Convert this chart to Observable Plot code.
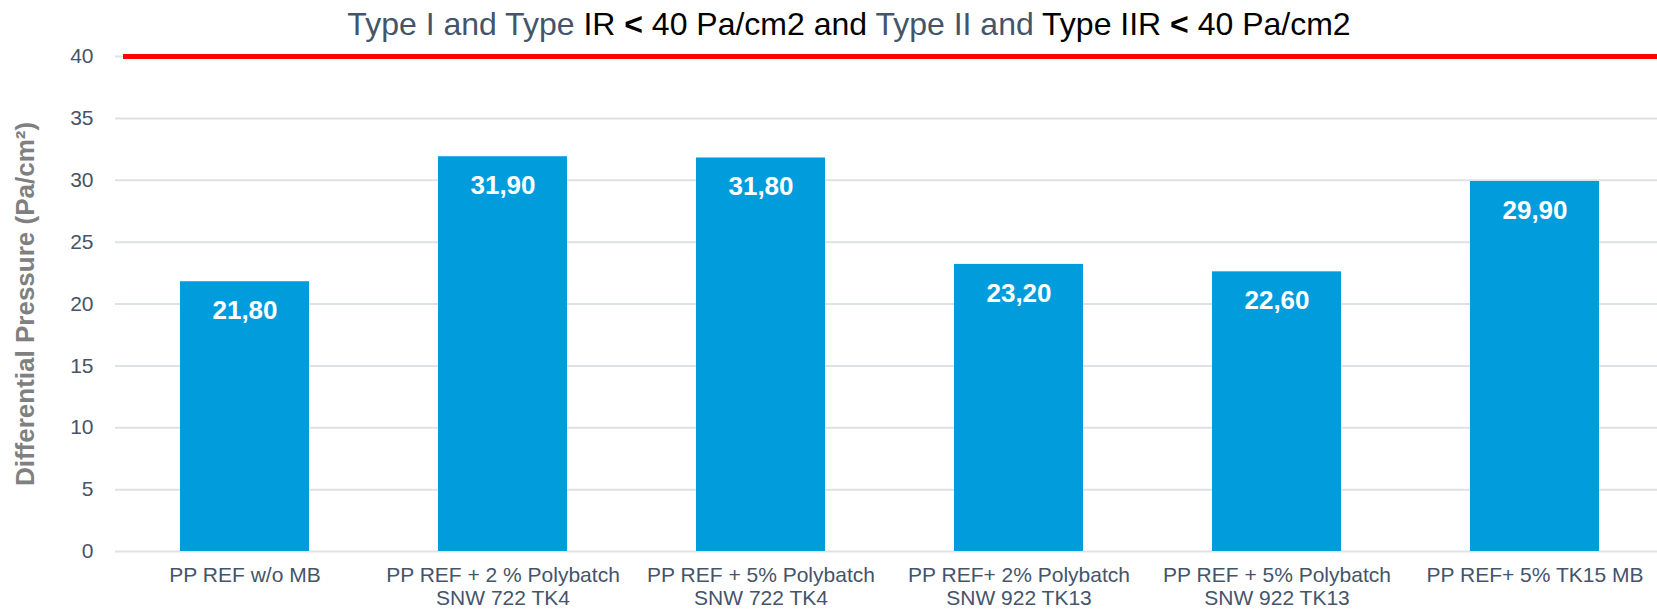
<!DOCTYPE html>
<html>
<head>
<meta charset="utf-8">
<script src="https://cdn.jsdelivr.net/npm/d3@7"></script>
<script src="https://cdn.jsdelivr.net/npm/@observablehq/plot@0.6"></script>
<style>
  html, body { margin: 0; padding: 0; background: #fff; overflow: hidden; }
  body { font-family: "Liberation Sans", Arial, sans-serif; width: 1657px; }
  #title {
    box-sizing: border-box; width: 1657px; height: 44px; line-height: 48px;
    padding-left: 41px; text-align: center; font-size: 32px; white-space: nowrap;
    color: #000;
  }
  #title .s { color: #44546A; }
  #title b { font-weight: bold; }
  g[aria-label="y-axis label"] text { font-weight: bold; fill: #808080; font-size: 26px; }
</style>
</head>
<body>
<div id="title"><span class="s">Type I and Type</span> IR <b>&lt;</b> 40 Pa/cm2 and <span class="s">Type II and</span> Type IIR <b>&lt;</b> 40 Pa/cm2</div>
<div id="chart"></div>
<script>
const categories = [
  "PP REF w/o MB",
  "PP REF + 2 % Polybatch\nSNW 722 TK4",
  "PP REF + 5% Polybatch\nSNW 722 TK4",
  "PP REF+ 2% Polybatch\nSNW 922 TK13",
  "PP REF + 5% Polybatch\nSNW 922 TK13",
  "PP REF+ 5% TK15 MB"
];
const values = [21.8, 31.9, 31.8, 23.2, 22.6, 29.9];
const yTicks = [0, 5, 10, 15, 20, 25, 30, 35, 40];
const limit = [40];
const yLabel = "Differential Pressure (Pa/cm²)";

const data = categories.map((c, i) => ({cat: c, value: values[i]}));
const fmt = v => d3.format(".2f")(v).replace(".", ",");

const chart = Plot.plot({
  width: 1657,
  height: 566,
  marginTop: 12,
  marginBottom: 59,
  marginLeft: 115,
  marginRight: 0,
  style: {fontFamily: "'Liberation Sans', Arial, sans-serif", background: "#fff"},
  x: {domain: categories, range: [115, 1663], paddingInner: 0.5, paddingOuter: 0.25},
  y: {domain: [0, 40]},
  marks: [
    Plot.ruleY(yTicks, {stroke: "#dde2e8", strokeWidth: 2}),
    Plot.barY(data, {x: "cat", y: "value", fill: "#009CDC"}),
    Plot.text(data, {x: "cat", y: "value", text: d => fmt(d.value), dy: 29, fill: "white", fontWeight: "bold", fontSize: 26}),
    Plot.ruleY(limit, {stroke: "#FF0000", strokeWidth: 5, insetLeft: 8}),
    Plot.axisY({ticks: yTicks, tickSize: 0, tickPadding: 22, fontSize: 21, color: "#44546A",
      label: yLabel, labelAnchor: "center", labelArrow: "none", labelOffset: 100}),
    Plot.axisX({tickSize: 0, tickPadding: 14, fontSize: 21, color: "#44546A", label: null, lineAnchor: "top", lineHeight: 1.1})
  ]
});
document.getElementById("chart").appendChild(chart);
</script>
</body>
</html>
